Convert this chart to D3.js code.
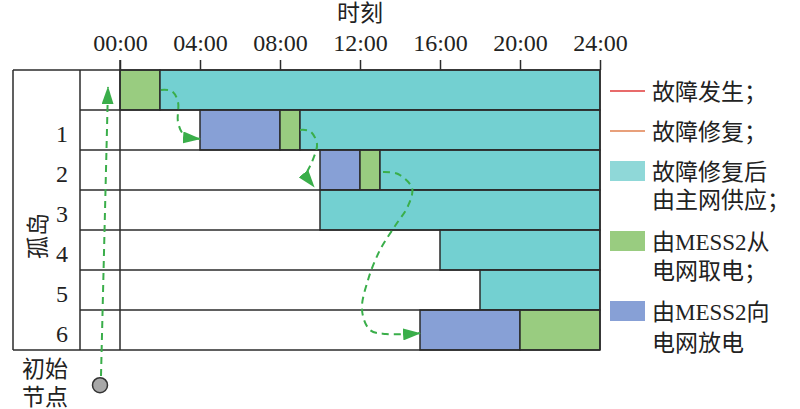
<!DOCTYPE html>
<html><head><meta charset="utf-8">
<script src="https://cdn.jsdelivr.net/npm/d3@7/dist/d3.min.js"></script>
<style>body{margin:0;background:#fff}</style>
</head><body>
<svg id="c" width="800" height="409"></svg>
<script>
// ---- data ----
const tickHours = [0, 4, 8, 12, 16, 20, 24];
const tickLabels = ["00:00", "04:00", "08:00", "12:00", "16:00", "20:00", "24:00"];
const rowLabels = ["", "1", "2", "3", "4", "5", "6"];
// segments: row index, start hour, end hour, type
const segRow   = [0, 0, 1, 1, 1, 2, 2, 2, 3, 4, 5, 6, 6];
const segStart = [0, 2, 4, 8, 9, 10, 12, 13, 10, 16, 18, 15, 20];
const segEnd   = [2, 24, 8, 9, 24, 12, 13, 24, 24, 24, 24, 20, 24];
const segType  = ["take", "grid", "give", "take", "grid", "give", "take", "grid", "grid", "grid", "grid", "give", "take"];
const typeColor = {grid: "#73d0d1", take: "#99cc80", give: "#87a0d6"};
const legendLabels = [["故障发生；"], ["故障修复；"], ["故障修复后", "由主网供应；"], ["由MESS2从", "电网取电；"], ["由MESS2向", "电网放电"]];
const legendKinds = ["line", "line", "box", "box", "box"];
const legendColors = ["#e03a3a", "#e0804f", "#8fd8d8", "#99cc80", "#87a0d6"];
// MESS2 path (hour, row position)
const path1 = [[-0.95, 7.65], [-0.6, 0.43]];
const path2 = [[2.05, 0.5], [2.6, 0.53], [2.9, 0.8], [2.9, 1.3], [3.2, 1.62], [4, 1.72]];
const path3 = [[9.0, 1.5], [9.5, 1.53], [9.85, 1.85], [9.6, 2.3], [9.35, 2.6], [9.7, 2.92]];
const path4 = [[13.15, 2.55], [13.9, 2.6], [14.6, 2.95], [14.4, 3.4], [13.75, 3.9], [13.0, 4.5], [12.4, 5.25], [12.1, 6.0], [12.5, 6.5], [13.3, 6.6], [15, 6.58]];
const startNode = [-1, 7.88];

// ---- layout ----
const svg = d3.select("#c");
const font = "'Liberation Serif','Times New Roman','Noto Sans CJK SC',serif";
const x = d3.scaleLinear().domain([0, 24]).range([120, 600]);
const y = d3.scaleLinear().domain([0, 7]).range([70, 350]);
const lineCol = "#2b2b2b";
const txtCol = "#222";

// bars
svg.append("g").selectAll("rect").data(segRow.map((r, i) => i)).join("rect")
  .attr("x", i => x(segStart[i])).attr("width", i => x(segEnd[i]) - x(segStart[i]))
  .attr("y", i => y(segRow[i])).attr("height", i => y(segRow[i] + 1) - y(segRow[i]))
  .attr("fill", i => typeColor[segType[i]])
  .attr("stroke", lineCol).attr("stroke-width", 1.5);

// grid lines
const g = svg.append("g").attr("stroke", lineCol).attr("stroke-width", 1.5).attr("fill", "none");
g.append("line").attr("x1", 13).attr("x2", x(24)).attr("y1", y(0)).attr("y2", y(0));
g.append("line").attr("x1", 13).attr("x2", x(24)).attr("y1", y(7)).attr("y2", y(7));
d3.range(1, 7).forEach(r => g.append("line").attr("x1", 80).attr("x2", x(24)).attr("y1", y(r)).attr("y2", y(r)));
g.append("line").attr("x1", 13).attr("x2", 13).attr("y1", y(0)).attr("y2", y(7));
g.append("line").attr("x1", 80).attr("x2", 80).attr("y1", y(0)).attr("y2", y(7));
g.append("line").attr("x1", x(0)).attr("x2", x(0)).attr("y1", y(0) - 10).attr("y2", y(7));
g.append("line").attr("x1", x(24)).attr("x2", x(24)).attr("y1", y(0)).attr("y2", y(7));

// top axis
const axis = d3.axisTop(x).tickValues(tickHours).tickFormat((d, i) => tickLabels[i]).tickSize(10).tickSizeOuter(0).tickPadding(9);
const ax = svg.append("g").attr("transform", `translate(0,${y(0)})`).call(axis);
ax.select(".domain").remove();
ax.selectAll(".tick line").attr("stroke", lineCol).attr("stroke-width", 1.5);
ax.selectAll(".tick text").attr("font-family", font).attr("font-size", 24).attr("fill", txtCol);
svg.append("text").attr("x", 360).attr("y", 21).attr("text-anchor", "middle")
  .attr("font-family", font).attr("font-size", 23).attr("fill", txtCol).text("时刻");

// row labels
svg.append("g").selectAll("text").data(rowLabels).join("text")
  .attr("x", 68).attr("y", (d, i) => y(i + 0.5) + 12).attr("text-anchor", "end")
  .attr("font-family", font).attr("font-size", 24).attr("fill", txtCol).text(d => d);
svg.append("text").attr("transform", `translate(46,236) rotate(-90)`).attr("text-anchor", "middle")
  .attr("font-family", font).attr("font-size", 23).attr("fill", txtCol).text("孤岛");
svg.append("text").attr("x", 45).attr("y", 377).attr("text-anchor", "middle")
  .attr("font-family", font).attr("font-size", 23).attr("fill", txtCol).text("初始");
svg.append("text").attr("x", 45).attr("y", 405).attr("text-anchor", "middle")
  .attr("font-family", font).attr("font-size", 23).attr("fill", txtCol).text("节点");

// arrows
const green = "#3aae4a";
svg.append("defs").append("marker").attr("id", "ah").attr("viewBox", "0 0 18 12")
  .attr("refX", 17).attr("refY", 6).attr("markerWidth", 18).attr("markerHeight", 12)
  .attr("markerUnits", "userSpaceOnUse").attr("orient", "auto")
  .append("path").attr("d", "M0,0 L18,6 L0,12 Z").attr("fill", green);
const ln = d3.line().x(d => x(d[0])).y(d => y(d[1])).curve(d3.curveCatmullRom.alpha(0.5));
[path1, path2, path3, path4].forEach(p => {
  svg.append("path").attr("d", ln(p)).attr("fill", "none").attr("stroke", green)
    .attr("stroke-width", 2).attr("stroke-dasharray", "7,5").attr("marker-end", "url(#ah)");
});
svg.append("circle").attr("cx", x(startNode[0])).attr("cy", y(startNode[1])).attr("r", 7.5)
  .attr("fill", "#a8a8a8").attr("stroke", "#333").attr("stroke-width", 1.5);

// legend
const legY = [91, 131, 171, 241, 311];
const legBase = [[100], [140], [180, 208], [250, 279], [320, 351]];
const lg = svg.append("g");
legendKinds.forEach((k, i) => {
  if (k === "line") {
    lg.append("line").attr("x1", 610).attr("x2", 645).attr("y1", legY[i]).attr("y2", legY[i])
      .attr("stroke", legendColors[i]).attr("stroke-width", 1.5);
  } else {
    lg.append("rect").attr("x", 610).attr("y", legY[i] - 10).attr("width", 35).attr("height", 20)
      .attr("fill", legendColors[i]);
  }
  legendLabels[i].forEach((t, j) => {
    lg.append("text").attr("x", 652).attr("y", legBase[i][j])
      .attr("font-family", font).attr("font-size", 23).attr("fill", txtCol).text(t);
  });
});
</script>
</body></html>
